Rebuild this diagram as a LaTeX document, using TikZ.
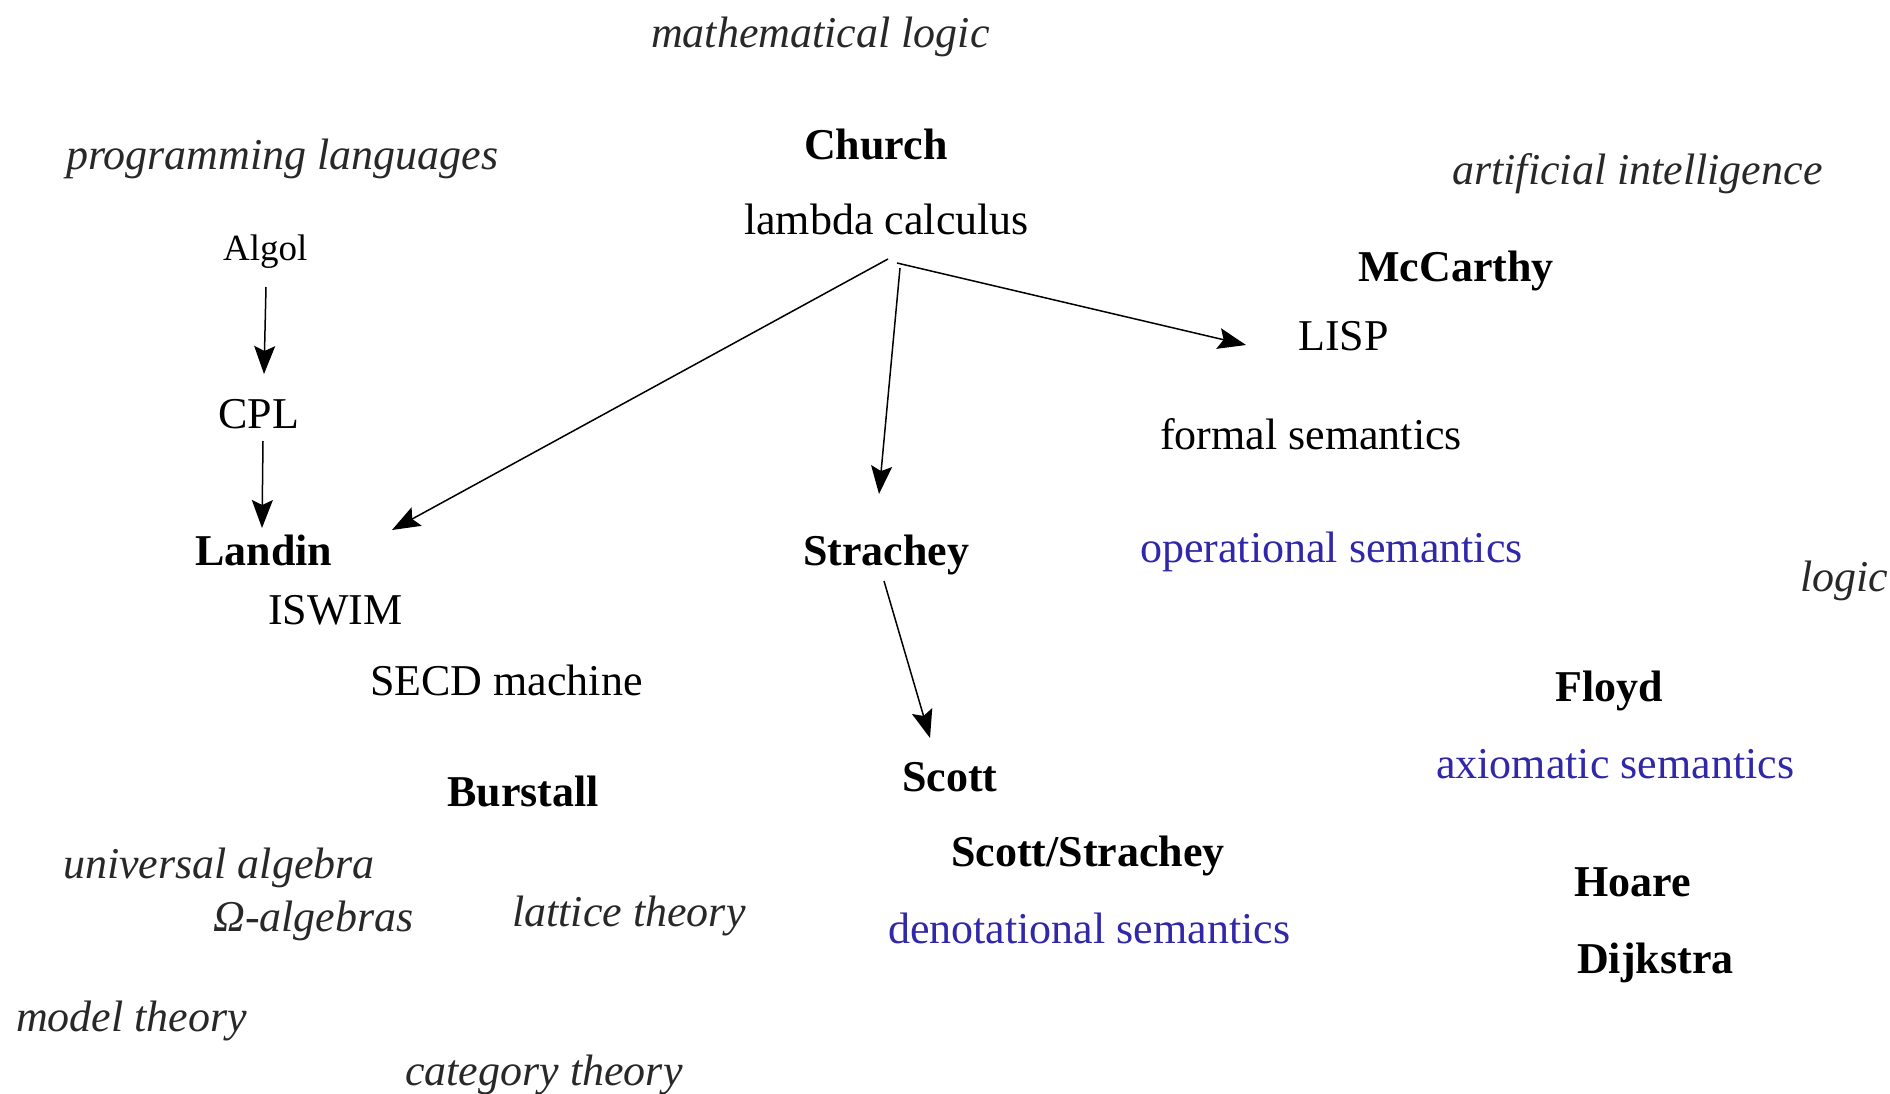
\documentclass[tikz,border=0pt]{standalone}
\usepackage{fontspec}
\setmainfont{Liberation Serif}
\usetikzlibrary{arrows.meta}
\definecolor{semblue}{RGB}{48,40,168}
\definecolor{fieldgray}{RGB}{40,40,40}
\begin{document}
\begin{tikzpicture}[x=1pt,y=-1pt,
  lbl/.style={anchor=base west, inner sep=0pt, font=\fontsize{44}{48}\selectfont},
  person/.style={lbl, font=\fontsize{44}{48}\selectfont\bfseries},
  field/.style={lbl, font=\fontsize{44}{48}\selectfont\itshape, text=fieldgray},
  sem/.style={lbl, text=semblue},
  arr/.style={-{Stealth[length=28pt,width=21pt,inset=5pt]}, line width=1.5pt}]
\useasboundingbox (0,0) rectangle (1890,1094);
\fill[white] (0,0) rectangle (1890,1094);

\begin{scope}[yshift=-3pt]
% fields
\node[field] (mathlogic) at (651,45) {mathematical logic};
\node[field] (proglang) at (66,167) {programming languages};
\node[field] (ai) at (1452,182) {artificial intelligence};
\node[field] (logic) at (1800,588) {logic};
\node[field] (univalg) at (63,875) {universal algebra};
\node[field] (omega) at (213,928) {Ω-algebras};
\node[field] (lattice) at (512,923) {lattice theory};
\node[field] (model) at (16,1028) {model theory};
\node[field] (category) at (405,1082) {category theory};

% people
\node[person] (church) at (804,157) {Church};
\node[person] (mccarthy) at (1358,278) {McCarthy};
\node[person] (landin) at (195,562) {Landin};
\node[person] (strachey) at (803,562) {Strachey};
\node[person] (floyd) at (1555,698) {Floyd};
\node[person] (scott) at (902,788) {Scott};
\node[person] (burstall) at (447,803) {Burstall};
\node[person] (scottstrachey) at (951,863) {Scott/Strachey};
\node[person] (hoare) at (1574,893) {Hoare};
\node[person] (dijkstra) at (1577,970) {Dijkstra};

% topics
\node[lbl] (lambda) at (744,232) {lambda calculus};
\node[lbl, font=\fontsize{37}{40}\selectfont] (algol) at (223,258) {Algol};
\node[lbl] (cpl) at (218,425) {CPL};
\node[lbl] (lisp) at (1298,347) {LISP};
\node[lbl] (formal) at (1160,446) {formal semantics};
\node[lbl] (iswim) at (268,621) {ISWIM};
\node[lbl] (secd) at (370,692) {SECD machine};
\node[sem] (operational) at (1140,559) {operational semantics};
\node[sem] (axiomatic) at (1436,775) {axiomatic semantics};
\node[sem] (denotational) at (888,940) {denotational semantics};
\end{scope}

% connector ends
\coordinate (algolOut) at (266,287);
\coordinate (cplIn) at (264,374);
\coordinate (cplOut) at (263,441);
\coordinate (landinIn) at (262,528);
\coordinate (lamOutL) at (888,259);
\coordinate (landinInR) at (392,530);
\coordinate (lamOutS) at (900,268);
\coordinate (stracheyIn) at (879,494);
\coordinate (lamOutR) at (897,263);
\coordinate (lispIn) at (1246,345);
\coordinate (stracheyOut) at (884,581);
\coordinate (scottIn) at (930,738);

\draw[arr] (algolOut) -- (cplIn);
\draw[arr] (cplOut) -- (landinIn);
\draw[arr] (lamOutL) -- (landinInR);
\draw[arr] (lamOutS) -- (stracheyIn);
\draw[arr] (lamOutR) -- (lispIn);
\draw[arr] (stracheyOut) -- (scottIn);
\end{tikzpicture}
\end{document}
